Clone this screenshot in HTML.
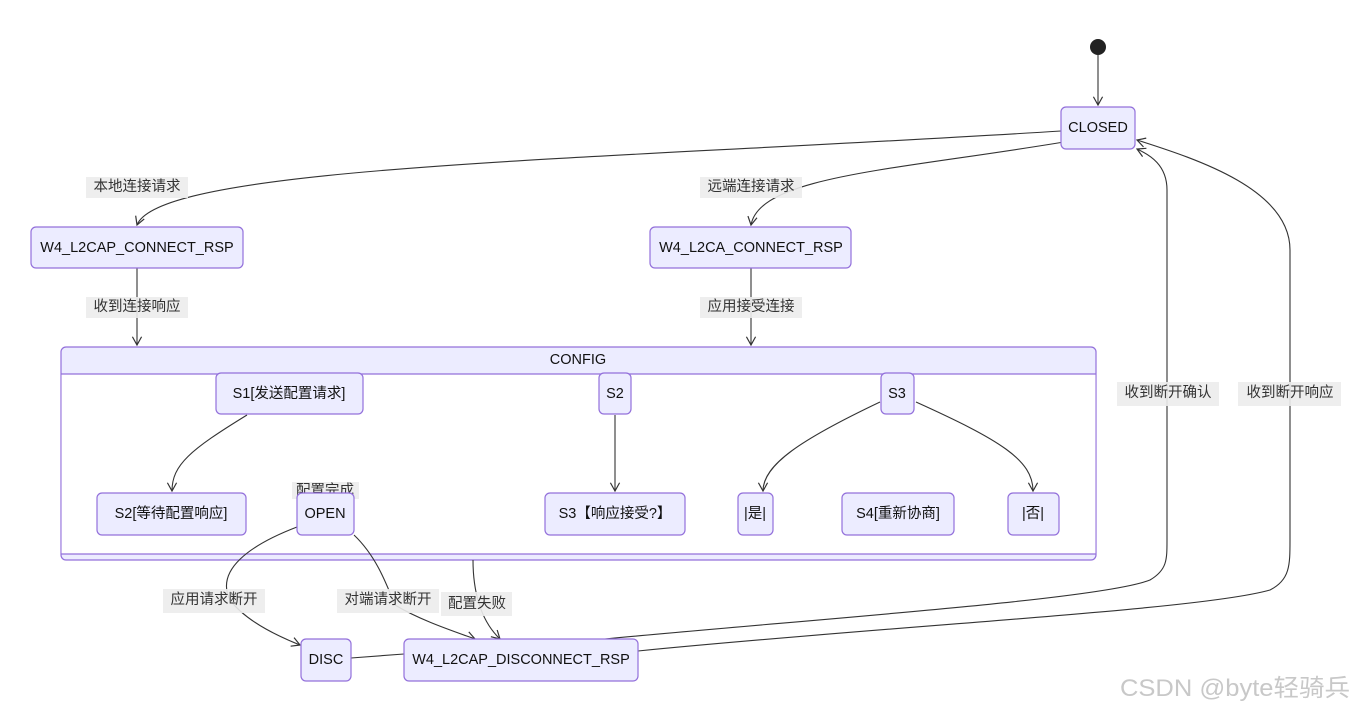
<!DOCTYPE html>
<html><head><meta charset="utf-8"><style>
html,body{margin:0;padding:0;background:#fff;}
svg{display:block;font-family:"Liberation Sans","Noto Sans CJK SC",sans-serif;}
.n{fill:#ECECFF;stroke:#9370DB;stroke-width:1.2;}
.t{font-size:14.5px;fill:#111;text-anchor:middle;dominant-baseline:central;}
.e{fill:none;stroke:#333;stroke-width:1.1;}
.lb{fill:#ececec;opacity:0.9;}
.lt{font-size:14.5px;fill:#333;text-anchor:middle;dominant-baseline:central;}
</style></head><body>
<svg width="1353" height="709" viewBox="0 0 1353 709">
<defs><marker id="a" viewBox="0 0 12 12" refX="10" refY="6" markerWidth="10" markerHeight="10" orient="auto"><path d="M1,1 L10,6 L1,11" fill="none" stroke="#333" stroke-width="1.3"/></marker></defs>

<rect class="n" x="61" y="347" width="1035" height="213" rx="5"/>
<rect x="61.6" y="374" width="1033.8" height="180" fill="#fff"/>
<line x1="61" y1="374" x2="1096" y2="374" stroke="#9370DB" stroke-width="1.2"/>
<line x1="61" y1="554" x2="1096" y2="554" stroke="#9370DB" stroke-width="1.2"/>
<text class="t" x="578" y="360">CONFIG</text>

<circle cx="1098" cy="47" r="8" fill="#222"/>
<path class="e" d="M1098,55 L1098,105" marker-end="url(#a)"/>
<path class="e" d="M1061,131 C600,160 160,165 137,225" marker-end="url(#a)"/>
<path class="e" d="M1076,140 C900,170 760,175 751,225" marker-end="url(#a)"/>
<path class="e" d="M137,268 L137,345" marker-end="url(#a)"/>
<path class="e" d="M751,268 L751,345" marker-end="url(#a)"/>
<path class="e" d="M247,415 C190,450 172,465 172,491" marker-end="url(#a)"/>
<path class="e" d="M615,415 L615,491" marker-end="url(#a)"/>
<path class="e" d="M880,402 C800,440 763,465 763,491" marker-end="url(#a)"/>
<path class="e" d="M916,402 C1000,440 1033,460 1033,491" marker-end="url(#a)"/>
<path class="e" d="M297,527 C250,545 215,570 230,600 C245,620 275,635 300,645" marker-end="url(#a)"/>
<path class="e" d="M354,535 C375,555 385,580 395,605 C420,620 450,630 475,639" marker-end="url(#a)"/>
<path class="e" d="M473,560 C473,590 480,620 500,639" marker-end="url(#a)"/>
<path class="e" d="M351,658 L404,654"/>
<path class="e" d="M605,639 C800,620 1100,600 1150,580 C1167,570 1167,560 1167,540 L1167,190 C1167,165 1150,155 1137,149" marker-end="url(#a)"/>
<path class="e" d="M638,651 C900,625 1200,610 1270,590 C1290,580 1290,565 1290,540 L1290,250 C1290,190 1200,160 1137,140" marker-end="url(#a)"/>

<rect class="n" x="1061" y="107" width="74" height="42" rx="5"/><text class="t" x="1098" y="128">CLOSED</text>
<rect class="n" x="31" y="227" width="212" height="41" rx="5"/><text class="t" x="137" y="248">W4_L2CAP_CONNECT_RSP</text>
<rect class="n" x="650" y="227" width="201" height="41" rx="5"/><text class="t" x="751" y="248">W4_L2CA_CONNECT_RSP</text>
<rect class="n" x="216" y="373" width="147" height="41" rx="5"/><text class="t" x="289" y="394">S1[发送配置请求]</text>
<rect class="n" x="599" y="373" width="32" height="41" rx="5"/><text class="t" x="615" y="394">S2</text>
<rect class="n" x="881" y="373" width="33" height="41" rx="5"/><text class="t" x="897" y="394">S3</text>
<rect class="n" x="97" y="493" width="149" height="42" rx="5"/><text class="t" x="171" y="514">S2[等待配置响应]</text>
<rect class="lb" x="292" y="482" width="67" height="17"/><text class="lt" x="325" y="491">配置完成</text>
<rect class="n" x="297" y="493" width="57" height="42" rx="5"/><text class="t" x="325" y="514">OPEN</text>
<rect class="n" x="545" y="493" width="140" height="42" rx="5"/><text class="t" x="615" y="514">S3【响应接受?】</text>
<rect class="n" x="738" y="493" width="35" height="42" rx="5"/><text class="t" x="755" y="514">|是|</text>
<rect class="n" x="842" y="493" width="112" height="42" rx="5"/><text class="t" x="898" y="514">S4[重新协商]</text>
<rect class="n" x="1008" y="493" width="51" height="42" rx="5"/><text class="t" x="1033" y="514">|否|</text>
<rect class="n" x="301" y="639" width="50" height="42" rx="5"/><text class="t" x="326" y="660">DISC</text>
<rect class="n" x="404" y="639" width="234" height="42" rx="5"/><text class="t" x="521" y="660">W4_L2CAP_DISCONNECT_RSP</text>

<rect class="lb" x="86" y="177" width="102" height="21"/><text class="lt" x="137" y="187">本地连接请求</text>
<rect class="lb" x="700" y="177" width="102" height="21"/><text class="lt" x="751" y="187">远端连接请求</text>
<rect class="lb" x="86" y="297" width="102" height="21"/><text class="lt" x="137" y="307">收到连接响应</text>
<rect class="lb" x="700" y="297" width="102" height="21"/><text class="lt" x="751" y="307">应用接受连接</text>
<rect class="lb" x="163" y="589" width="102" height="24"/><text class="lt" x="214" y="600">应用请求断开</text>
<rect class="lb" x="337" y="589" width="102" height="24"/><text class="lt" x="388" y="600">对端请求断开</text>
<rect class="lb" x="441" y="592" width="71" height="24"/><text class="lt" x="477" y="604">配置失败</text>
<rect class="lb" x="1117" y="382" width="102" height="24"/><text class="lt" x="1168" y="393">收到断开确认</text>
<rect class="lb" x="1238" y="382" width="103" height="24"/><text class="lt" x="1290" y="393">收到断开响应</text>

<text x="1120" y="696" style="font-size:24px;fill:#c8c8c8;" textLength="230" lengthAdjust="spacingAndGlyphs">CSDN @byte轻骑兵</text>
</svg>
</body></html>
